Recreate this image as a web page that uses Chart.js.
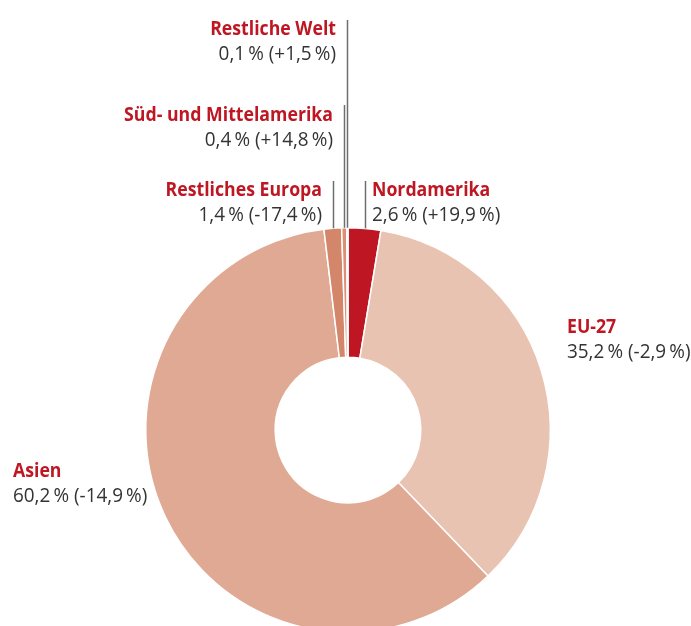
<!DOCTYPE html>
<html>
<head>
<meta charset="utf-8">
<script src="https://cdn.jsdelivr.net/npm/chart.js@4.4.1/dist/chart.umd.min.js"></script>
<style>
    html, body { margin: 0; padding: 0; background: #fff; overflow: hidden; }
    #wrap { width: 691px; height: 680px; position: relative; }
</style>
</head>
<body>
<div id="wrap"><canvas id="chart"></canvas></div>
<script>
const regions = ['Nordamerika', 'EU-27', 'Asien', 'Restliches Europa', 'Süd- und Mittelamerika', 'Restliche Welt'];
const shares = [2.6, 35.2, 60.2, 1.4, 0.4, 0.1];
const changes = ['+19,9', '-2,9', '-14,9', '-17,4', '+14,8', '+1,5'];
const sliceColors = ['#be1622', '#e9c3b1', '#e0a994', '#d4866b', '#dc8f74', '#eab9a3'];

const nameColor = '#be1622';
const valueColor = '#333333';
const leaderColor = '#6e6e6e';
const fontFamily = '"Open Sans", "DejaVu Sans", sans-serif';

// label anchor per slice: x, name baseline, top of leader line (if any)
const labelLayout = [
    { align: 'left', x: 372, y: 196, lineTop: 181 },
    { align: 'left', x: 567, y: 333 },
    { align: 'left', x: 13, y: 477 },
    { align: 'right', x: 322, y: 196, lineTop: 181 },
    { align: 'right', x: 333, y: 121, lineTop: 105 },
    { align: 'right', x: 336, y: 35, lineTop: 20 },
];

function formatValue(i) {
    const share = shares[i].toFixed(1).replace('.', ',');
    return share + '\u2009% (' + changes[i] + '\u2009%)';
}

// condensed text, the original uses a narrow typeface
function drawText(ctx, text, x, y, align, font, scaleX) {
    ctx.save();
    ctx.translate(x, y);
    ctx.scale(scaleX, 1);
    ctx.font = font;
    ctx.textAlign = align;
    ctx.textBaseline = 'alphabetic';
    ctx.fillText(text, 0, 0);
    ctx.restore();
}

const sliceLabels = {
    id: 'sliceLabels',
    afterDatasetsDraw(chart) {
        const ctx = chart.ctx;
        const arcs = chart.getDatasetMeta(0).data;
        ctx.save();
        arcs.forEach(function (arc, i) {
            const layout = labelLayout[i];
            if (layout.lineTop !== undefined) {
                const mid = (arc.startAngle + arc.endAngle) / 2;
                const lx = arc.x + arc.outerRadius * Math.cos(mid);
                const ly = arc.y + arc.outerRadius * Math.sin(mid);
                ctx.strokeStyle = leaderColor;
                ctx.lineWidth = 1.5;
                ctx.beginPath();
                ctx.moveTo(Math.round(lx) + 0.5, layout.lineTop);
                ctx.lineTo(Math.round(lx) + 0.5, ly);
                ctx.stroke();
            }
            ctx.fillStyle = nameColor;
            drawText(ctx, regions[i], layout.x, layout.y, layout.align, '700 20px ' + fontFamily, 0.885);
            ctx.fillStyle = valueColor;
            drawText(ctx, formatValue(i), layout.x, layout.y + 25, layout.align, '400 20px ' + fontFamily, 0.945);
        });
        ctx.restore();
    },
};

new Chart(document.getElementById('chart'), {
    type: 'doughnut',
    data: {
        labels: regions,
        datasets: [{
            data: shares,
            backgroundColor: sliceColors,
            borderColor: '#ffffff',
            borderWidth: 1.5,
        }],
    },
    options: {
        responsive: true,
        maintainAspectRatio: false,
        animation: false,
        cutout: '36%',
        layout: { padding: { left: 145, right: 140, top: 227, bottom: 47 } },
        plugins: {
            legend: { display: false },
            tooltip: { enabled: false },
        },
    },
    plugins: [sliceLabels],
});
</script>
</body>
</html>
